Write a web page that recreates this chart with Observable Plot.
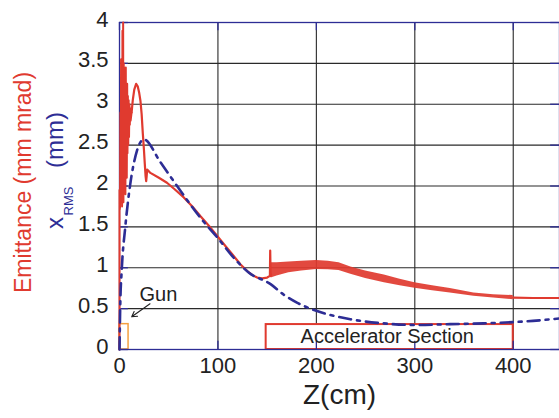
<!DOCTYPE html>
<html>
<head>
<meta charset="utf-8">
<script src="https://cdn.jsdelivr.net/npm/d3@7"></script>
<script src="https://cdn.jsdelivr.net/npm/@observablehq/plot@0.6"></script>
<style>
  html, body { margin: 0; padding: 0; background: #fff; }
  #chart { width: 559px; height: 418px; }
</style>
</head>
<body>
<div id="chart"></div>
<script>
// ---- Data ----
const xTicks = [0, 100, 200, 300, 400];
const yTicks = [0, 0.5, 1, 1.5, 2, 2.5, 3, 3.5, 4];

// Emittance near the gun (strong oscillations), z in cm
const emitGunZ = [0, 0, 0.5, 0.9, 1.2, 1.6, 1.9, 2.3, 2.6, 3.0, 3.3, 3.7, 4.0, 4.3, 4.6, 5.0, 5.3, 5.7, 6.0, 6.4, 6.7, 7.1, 7.4, 7.8, 8.1, 8.5, 8.9, 9.3, 9.7, 10.1, 10.5, 10.9, 11.3, 11.8, 12.3];
const emitGunV = [0, 1.95, 1.72, 2.9, 1.8, 3.55, 1.85, 3.4, 1.75, 3.9, 1.9, 4.0, 1.8, 3.5, 1.95, 3.45, 2.0, 3.3, 1.9, 3.45, 2.2, 3.2, 2.1, 3.25, 2.4, 3.1, 2.5, 3.05, 2.6, 3.0, 2.75, 2.95, 2.8, 2.85, 2.9];

// Emittance, smooth part from the bump down to the accelerator entrance
const emitZ = [12.3, 13.5, 15.0, 16.9, 18.5, 20.0, 21.3, 22.5, 23.7, 24.8, 25.7, 26.5, 27.1, 27.6, 28.1, 29.8, 31.4, 40.0, 48.2, 56.0, 65.3, 74.0, 82.3, 91.0, 99.3, 108.0, 116.2, 123.0, 129.8, 135.0, 139.9, 145.0, 150.0, 152.8, 153.1, 153.5, 154.0];
const emitV = [2.9, 3.05, 3.18, 3.25, 3.22, 3.14, 3.04, 2.88, 2.64, 2.45, 2.27, 2.12, 2.06, 2.12, 2.2, 2.18, 2.16, 2.1, 2.04, 1.96, 1.86, 1.75, 1.63, 1.51, 1.39, 1.26, 1.14, 1.04, 0.96, 0.91, 0.88, 0.87, 0.88, 0.9, 1.21, 0.9, 0.92];

// Emittance ripple band inside the accelerator section (envelope)
const bandZ  = [154, 160, 172, 185, 200, 212, 223, 235, 250, 269, 285, 300, 318, 336, 360, 380, 400];
const bandHi = [1.06, 1.06, 1.07, 1.08, 1.09, 1.08, 1.06, 1.01, 0.96, 0.91, 0.86, 0.815, 0.78, 0.745, 0.69, 0.67, 0.66];
const bandLo = [0.875, 0.9, 0.94, 0.96, 0.98, 0.975, 0.965, 0.92, 0.87, 0.815, 0.78, 0.75, 0.72, 0.69, 0.65, 0.63, 0.61];

// Emittance after the accelerator section
const tailZ = [400, 420, 447];
const tailV = [0.635, 0.63, 0.63];

// Beam size x_RMS (mm)
const rmsZ = [0, 0.7, 2.4, 5.8, 10.9, 17.7, 24.7, 41.6, 58.5, 82.3, 100.8, 116.2, 131.5, 153.5, 166.9, 180.7, 200.7, 234.5, 268, 302, 336, 370, 400, 420, 447];
const rmsV = [0, 0.51, 1.0, 1.49, 2.02, 2.43, 2.57, 2.29, 2.0, 1.61, 1.35, 1.12, 0.94, 0.80, 0.67, 0.57, 0.47, 0.37, 0.32, 0.30, 0.31, 0.32, 0.335, 0.35, 0.38];

// Annotations
const gunBox = [{z1: 0, z2: 9.2, v1: 0, v2: 0.31}];
const accBox = [{z1: 149, z2: 400, v1: 0, v2: 0.305}];
const gunLabel = [{z: 39.5, v: 0.67, text: "Gun"}];
const gunArrow = [{z1: 31, v1: 0.56, z2: 12.4, v2: 0.4}];
const accLabel = [{z: 272, v: 0.155, text: "Accelerator Section"}];

// ---- Build tables ----
const gunData = emitGunZ.map((z, i) => ({z, v: emitGunV[i]}));
const emitData = emitZ.map((z, i) => ({z, v: emitV[i]}));
const bandData = bandZ.map((z, i) => ({z, lo: bandLo[i], hi: bandHi[i]}));
const tailData = tailZ.map((z, i) => ({z, v: tailV[i]}));
const rmsData = rmsZ.map((z, i) => ({z, v: rmsV[i]}));

const RED = "#e03a2f";
const BLUE = "#2d2d95";
const ORANGE = "#f4a040";
const GRID = "#2a2a2a";

const chart = Plot.plot({
  width: 559,
  height: 418,
  marginLeft: 119,
  marginRight: 0,
  marginTop: 22,
  marginBottom: 69,
  style: {fontFamily: "'Liberation Sans', Arial, Helvetica, sans-serif", background: "#fff", color: "#222"},
  x: {domain: [0, 447]},
  y: {domain: [0, 4]},
  marks: [
    Plot.ruleX(xTicks.slice(1), {stroke: GRID, strokeWidth: 1.1}),
    Plot.ruleY(yTicks.slice(1, -1), {stroke: GRID, strokeWidth: 1.1}),
    Plot.rect(accBox, {x1: "z1", x2: "z2", y1: "v1", y2: "v2", fill: "#fff", stroke: RED, strokeWidth: 2}),
    Plot.rect(gunBox, {x1: "z1", x2: "z2", y1: "v1", y2: "v2", fill: "none", stroke: ORANGE, strokeWidth: 1.5}),
    Plot.frame({stroke: BLUE, strokeWidth: 1.3}),
    Plot.ruleX(xTicks, {y1: 0, y2: 0.1, stroke: BLUE, strokeWidth: 1.3}),
    Plot.ruleX(xTicks, {y1: 3.9, y2: 4, stroke: BLUE, strokeWidth: 1.3}),
    Plot.ruleY(yTicks, {x1: 0, x2: 9, stroke: BLUE, strokeWidth: 1.3}),
    Plot.ruleY(yTicks, {x1: 438, x2: 447, stroke: BLUE, strokeWidth: 1.3}),
    Plot.axisX({ticks: xTicks, tickSize: 0, tickPadding: 8, fontSize: 22, label: null, tickFormat: d => String(d)}),
    Plot.axisY({ticks: yTicks, tickSize: 0, tickPadding: 11, fontSize: 22, label: null, dy: -3, tickFormat: d => String(d)}),
    // emittance
    Plot.areaY(bandData, {x: "z", y1: "lo", y2: "hi", fill: RED, fillOpacity: 0.92}),
    Plot.line(gunData, {x: "z", y: "v", stroke: RED, strokeWidth: 2}),
    Plot.line(emitData, {x: "z", y: "v", stroke: RED, strokeWidth: 2.2}),
    Plot.line(tailData, {x: "z", y: "v", stroke: RED, strokeWidth: 2.2}),
    // x_RMS
    Plot.line(rmsData, {x: "z", y: "v", stroke: BLUE, strokeWidth: 2.6, strokeDasharray: "12,6,3,6", curve: "monotone-x"}),
    // annotations
    Plot.text(gunLabel, {x: "z", y: "v", text: "text", fontSize: 20, fill: "#222"}),
    Plot.arrow(gunArrow, {x1: "z1", y1: "v1", x2: "z2", y2: "v2", stroke: "#222", strokeWidth: 1.1, headLength: 8}),
    Plot.text(accLabel, {x: "z", y: "v", text: "text", fontSize: 20, fill: "#222"}),
    // axis titles
    Plot.text(["Z(cm)"], {frameAnchor: "bottom", dy: 54, fontSize: 28, fill: "#222"}),
    Plot.text(["Emittance (mm mrad)"], {frameAnchor: "left", textAnchor: "middle", dx: -96, dy: -3.5, rotate: -90, fontSize: 23, fill: RED}),
    Plot.text(["x"], {frameAnchor: "left", textAnchor: "middle", dx: -64, dy: 37, rotate: -90, fontSize: 24, fill: BLUE}),
    Plot.text(["RMS"], {frameAnchor: "left", textAnchor: "middle", dx: -51, dy: 15, rotate: -90, fontSize: 13, fill: BLUE}),
    Plot.text(["(mm)"], {frameAnchor: "left", textAnchor: "middle", dx: -64, dy: -46, rotate: -90, fontSize: 24, fill: BLUE})
  ]
});
document.getElementById("chart").appendChild(chart);
</script>
</body>
</html>
